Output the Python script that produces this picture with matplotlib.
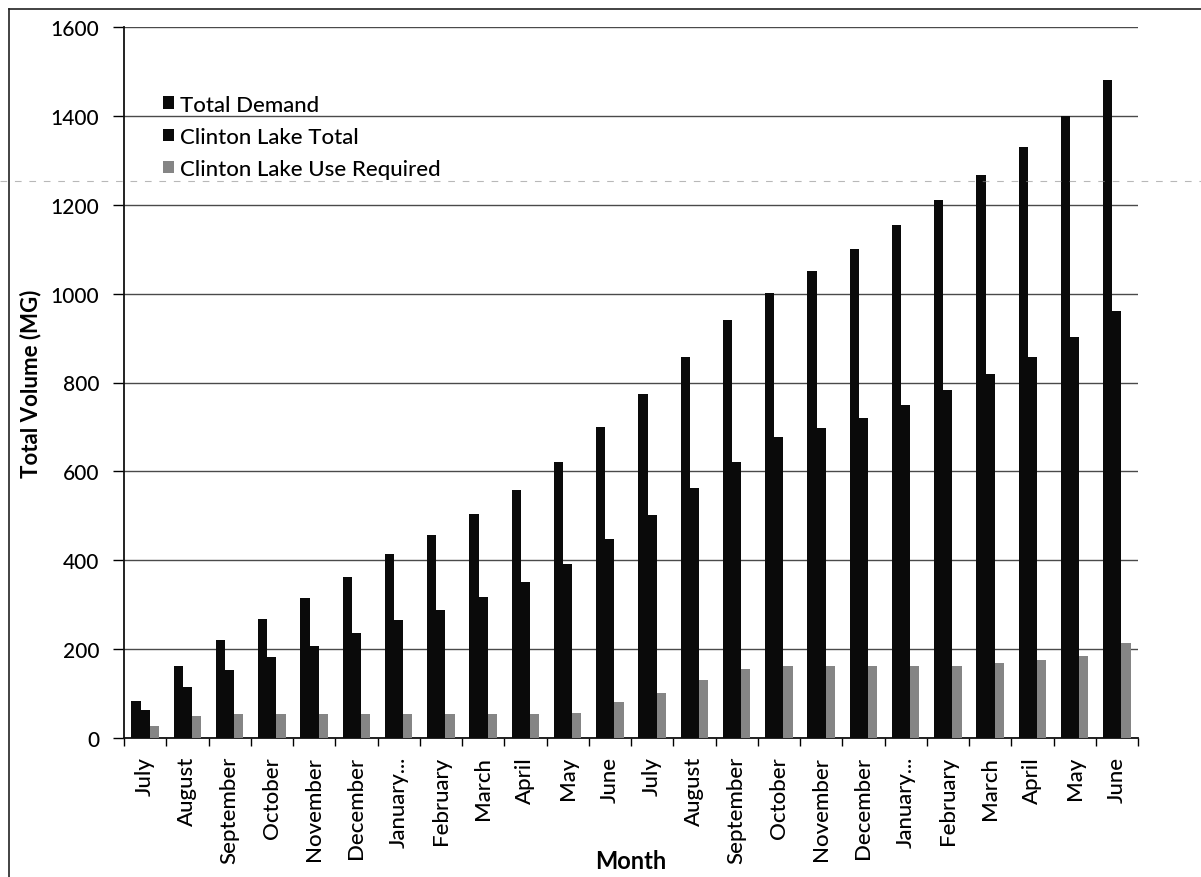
import matplotlib
matplotlib.use("Agg")
import matplotlib.pyplot as plt
import numpy as np
from matplotlib.lines import Line2D

months = ["July", "August", "September", "October", "November", "December",
          "January...", "February", "March", "April", "May", "June",
          "July", "August", "September", "October", "November", "December",
          "January...", "February", "March", "April", "May", "June"]

total_demand = [83, 162, 220, 268, 316, 363, 415, 457, 505, 558, 620, 700,
                773, 858, 940, 1002, 1052, 1100, 1155, 1210, 1268, 1330, 1400, 1480]
clinton_lake_total = [62, 115, 154, 183, 208, 236, 265, 288, 318, 350, 392, 448,
                      502, 563, 620, 678, 697, 720, 750, 782, 820, 858, 902, 960]
use_required = [26, 49, 53, 53, 53, 53, 53, 53, 53, 53, 57, 82,
                101, 130, 155, 163, 163, 163, 163, 163, 168, 176, 185, 214]

series_names = ["Total Demand", "Clinton Lake Total", "Clinton Lake Use Required"]
series_colors = ["#0a0a0a", "#0a0a0a", "#858585"]

plt.rcParams["font.family"] = ["Lato", "DejaVu Sans"]

W, H = 1201, 878
fig = plt.figure(figsize=(W / 100, H / 100), dpi=100)
ax = fig.add_axes([124 / W, 1 - 739 / H, (1138 - 124) / W, (739 - 28) / H])

x = np.arange(len(months))
w = 0.215
for k, (vals, name, col) in enumerate(zip([total_demand, clinton_lake_total, use_required],
                                          series_names, series_colors)):
    ax.bar(x + (k - 1) * w, vals, width=w, color=col, label=name, zorder=3,
           linewidth=0)

ax.set_xlim(-0.5, len(months) - 0.5)
ax.set_ylim(0, 1600)
ax.set_yticks(np.arange(0, 1601, 200))
ax.tick_params(axis="y", labelsize=15, length=8, width=1, direction="out", pad=10)
ax.yaxis.grid(True, color="#4a4a4a", linewidth=1.0, zorder=0)
ax.set_axisbelow(True)

ax.set_xticks(x)
ax.set_xticklabels(months, rotation=90, fontsize=16)
ax.tick_params(axis="x", length=0, pad=13)
ax.set_xticks(np.arange(-0.5, len(months), 1.0), minor=True)
ax.tick_params(axis="x", which="minor", length=6, width=1, direction="out")

for lbl in ax.get_xticklabels() + ax.get_yticklabels():
    lbl.set_fontweight("medium")

for s in ["top", "right"]:
    ax.spines[s].set_visible(False)
for s in ["left", "bottom"]:
    ax.spines[s].set_linewidth(1.3)
    ax.spines[s].set_color("#111111")

ax.set_ylabel("Total Volume (MG)", fontsize=16, fontweight="bold")
ax.yaxis.set_label_coords((31 - 124) / (1138 - 124), 0.5)
ax.yaxis.label.set_va("center")
ax.set_xlabel("Month", fontsize=17, fontweight="bold")
ax.xaxis.set_label_coords(0.5, (739 - 862) / (739 - 28))
ax.xaxis.label.set_va("center")

leg = ax.legend(loc="upper left", bbox_to_anchor=(0.0385, 0.905), frameon=False,
                prop={"size": 16, "weight": "medium"}, handlelength=0.5,
                handleheight=0.5, handletextpad=0.25, labelspacing=0.55,
                borderaxespad=0, borderpad=0)

# outer chart frame (left and top edges)
fig.add_artist(Line2D([9 / W, 9 / W], [0, 1 - 10 / H], color="#222222",
                      linewidth=1.2, transform=fig.transFigure))
fig.add_artist(Line2D([9 / W, 1], [1 - 10 / H, 1 - 10 / H], color="#222222",
                      linewidth=1.2, transform=fig.transFigure))
# faint fold line across the sheet
fig.add_artist(Line2D([0, 1], [1 - 182 / H, 1 - 182 / H], color="#8a8a8a",
                      linewidth=0.8, linestyle=(0, (6, 7)), alpha=0.6,
                      transform=fig.transFigure, zorder=5))

fig.savefig("out.png", dpi=100)
